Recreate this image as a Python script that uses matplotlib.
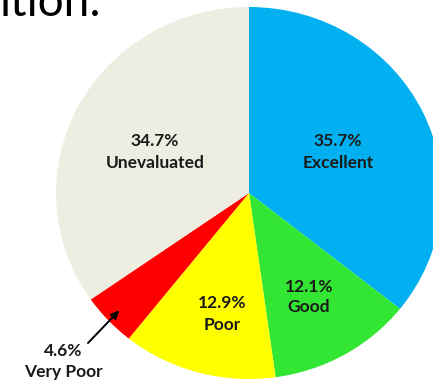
import numpy as np
import matplotlib
matplotlib.use("Agg")
import matplotlib.pyplot as plt

# Ratings share
categories = ["Excellent", "Good", "Poor", "Very Poor", "Unevaluated"]
shares = [35.7, 12.1, 12.9, 4.6, 34.7]
colors = ["#00B0F0", "#33E633", "#FFFF00", "#FF0000", "#EEEDE2"]

W, H, DPI = 433, 382, 100
fig = plt.figure(figsize=(W / DPI, H / DPI), dpi=DPI)
fig.patch.set_facecolor("white")

# pie box (pixels, from top-left): slightly wider than tall
left_px, right_px, top_px, bottom_px = 56, 442, 7, 379
ax = fig.add_axes([left_px / W, 1 - bottom_px / H,
                   (right_px - left_px) / W, (bottom_px - top_px) / H])
ax.set_xlim(-1, 1)
ax.set_ylim(-1, 1)
ax.set_aspect("auto")
ax.axis("off")

wedges, _ = ax.pie(shares, colors=colors, startangle=90, counterclock=False,
                   radius=1.0, wedgeprops=dict(linewidth=0), frame=False)
ax.set_aspect("auto")
ax.set_xlim(-1, 1)
ax.set_ylim(-1, 1)

label_font = dict(family=["Lato", "DejaVu Sans"], weight="bold", fontsize=12.5,
                  color="#1a1a1a", ha="center", va="center")

def px(x, y):
    # figure-fraction coordinates from pixel position (top-left origin)
    return x / W, 1 - y / H

# label block centres in pixels
label_pos = {
    "Unevaluated": (155, 152),
    "Excellent": (338, 152),
    "Good": (309, 297),
    "Poor": (222, 314),
    "Very Poor": (63, 362),
}
for cat, val in zip(categories, shares):
    cx, cy = label_pos[cat]
    fig.text(*px(cx, cy - 10.5), f"{val}%", **label_font)
    fig.text(*px(cx, cy + 10.5), cat, **label_font)

# arrow pointing into the small "Very Poor" wedge
vp = categories.index("Very Poor")
w = wedges[vp]
mid = np.deg2rad((w.theta1 + w.theta2) / 2)
tip = (0.92 * np.cos(mid), 0.92 * np.sin(mid))
ax.annotate("", xy=tip, xycoords="data",
            xytext=px(88, 343), textcoords="figure fraction",
            arrowprops=dict(arrowstyle="-|>,head_length=0.5,head_width=0.22",
                            color="black", lw=1.4, shrinkA=0, shrinkB=0),
            annotation_clip=False)

# heading cut off by the top edge
fig.text(*px(-1, 16), "ition:", family=["Lato", "DejaVu Sans"], fontsize=33,
         color="black", ha="left", va="baseline")

fig.savefig("out.png", dpi=DPI, facecolor="white")
